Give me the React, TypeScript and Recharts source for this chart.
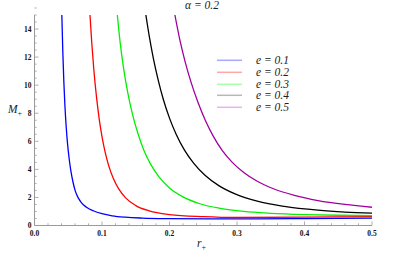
import React from 'react';
import { LineChart, Line, XAxis, YAxis } from 'recharts';

// e = 0.1
const rE1 = [0.0405, 0.042, 0.0435, 0.045, 0.047, 0.049, 0.0515, 0.054, 0.057, 0.0605, 0.065, 0.07, 0.077, 0.087, 0.1, 0.115, 0.135, 0.16, 0.2, 0.26, 0.33, 0.4, 0.5];
const mE1 = [15, 12.3, 10.2, 8.6, 7.0, 5.8, 4.7, 3.85, 3.1, 2.45, 1.95, 1.6, 1.3, 1.05, 0.84, 0.69, 0.59, 0.53, 0.49, 0.47, 0.47, 0.49, 0.53];
// e = 0.2
const rE2 = [0.0822, 0.085, 0.088, 0.092, 0.096, 0.1, 0.105, 0.11, 0.117, 0.125, 0.135, 0.15, 0.17, 0.2, 0.25, 0.3, 0.4, 0.5];
const mE2 = [15, 12.9, 11.05, 9.09, 7.55, 6.33, 5.15, 4.25, 3.33, 2.59, 1.97, 1.42, 1.04, 0.78, 0.63, 0.57, 0.59, 0.63];
// e = 0.3
const rE3 = [0.1227, 0.127, 0.132, 0.138, 0.145, 0.153, 0.162, 0.172, 0.185, 0.2, 0.22, 0.245, 0.275, 0.31, 0.35, 0.4, 0.45, 0.5];
const mE3 = [15, 13.0, 11.2, 9.5, 7.95, 6.59, 5.37, 4.37, 3.43, 2.68, 2.04, 1.55, 1.22, 1.0, 0.87, 0.78, 0.73, 0.7];
// e = 0.4
const rE4 = [0.165, 0.17, 0.176, 0.183, 0.191, 0.2, 0.21, 0.222, 0.236, 0.253, 0.273, 0.298, 0.33, 0.37, 0.42, 0.46, 0.5];
const mE4 = [15, 13.49, 11.93, 10.41, 8.96, 7.65, 6.49, 5.39, 4.43, 3.56, 2.84, 2.23, 1.73, 1.36, 1.09, 0.96, 0.88];
// e = 0.5
const rE5 = [0.208, 0.215, 0.223, 0.232, 0.242, 0.253, 0.265, 0.278, 0.293, 0.31, 0.33, 0.355, 0.385, 0.42, 0.46, 0.5];
const mE5 = [15, 13.3, 11.7, 10.2, 8.8, 7.5, 6.35, 5.35, 4.5, 3.78, 3.15, 2.6, 2.15, 1.78, 1.5, 1.3];

const eLabels = ['e = 0.1', 'e = 0.2', 'e = 0.3', 'e = 0.4', 'e = 0.5'];
const lineColors = ['#0000ff', '#ff0000', '#00f000', '#000000', '#a000a0'];
const legendColors = ['#a8a8ff', '#ffa8a8', '#a8ffa8', '#b8b8b8', '#eeb0ee'];

const xMajor = [0, 0.1, 0.2, 0.3, 0.4, 0.5];
const xMajorLabels = ['0.0', '0.1', '0.2', '0.3', '0.4', '0.5'];
const yMajor = [0, 2, 4, 6, 8, 10, 12, 14];
const yMajorLabels = ['0', '2', '4', '6', '8', '10', '12', '14'];

const zip = (rs: number[], ms: number[]) => rs.map((r, i) => ({ r, m: ms[i] }));
const seriesData = [zip(rE1, mE1), zip(rE2, mE2), zip(rE3, mE3), zip(rE4, mE4), zip(rE5, mE5)];

const xTicks: number[] = [];
for (let i = 0; i < xMajor.length; i++) {
  xTicks.push(xMajor[i]);
  if (i < xMajor.length - 1) {
    const step = (xMajor[i + 1] - xMajor[i]) / 5;
    for (let k = 1; k < 5; k++) xTicks.push(xMajor[i] + step * k);
  }
}
const yTicks: number[] = [];
for (let i = 0; i < yMajor.length; i++) {
  yTicks.push(yMajor[i]);
  for (let k = 1; k < 4; k++) yTicks.push(yMajor[i] + 0.5 * k);
}

const isMajorX = (v: number) => xMajor.findIndex((m) => Math.abs(m - v) < 1e-6);
const isMajorY = (v: number) => yMajor.findIndex((m) => Math.abs(m - v) < 1e-6);

const frameColor = '#9a9a9a';
const tickFont = { fontFamily: 'Liberation Serif, Times New Roman, serif', fontSize: 7.5, fontWeight: 700 as const };
const MAJ = 4;
const MIN = 2.2;

const BottomTick = (p: any) => {
  const idx = isMajorX(p.payload.value);
  const len = idx >= 0 ? MAJ : MIN;
  return (
    <g>
      <line x1={p.x} x2={p.x} y1={p.y} y2={p.y - len} stroke={frameColor} strokeWidth={0.8} />
      {idx >= 0 && (
        <text x={p.x} y={p.y + 10} textAnchor="middle" fill="#111" style={tickFont}>
          {xMajorLabels[idx]}
        </text>
      )}
    </g>
  );
};
const TopTick = (p: any) => {
  const idx = isMajorX(p.payload.value);
  const len = idx >= 0 ? MAJ : MIN;
  return <line x1={p.x} x2={p.x} y1={p.y} y2={p.y + len} stroke={frameColor} strokeWidth={0.8} />;
};
const LeftTick = (p: any) => {
  const idx = isMajorY(p.payload.value);
  const len = idx >= 0 ? MAJ : MIN;
  return (
    <g>
      <line x1={p.x} x2={p.x + len} y1={p.y} y2={p.y} stroke={frameColor} strokeWidth={0.8} />
      {idx >= 0 && (
        <text x={p.x - 3} y={p.y + 2.6} textAnchor="end" fill="#111" style={tickFont}>
          {yMajorLabels[idx]}
        </text>
      )}
    </g>
  );
};
const RightTick = (p: any) => {
  const idx = isMajorY(p.payload.value);
  const len = idx >= 0 ? MAJ : MIN;
  return <line x1={p.x} x2={p.x - len} y1={p.y} y2={p.y} stroke={frameColor} strokeWidth={0.8} />;
};

const serif = 'Liberation Serif, Times New Roman, serif';

export default function App() {
  return (
    <div style={{ position: 'absolute', left: 0, top: 0, width: 415, height: 260, background: '#fff' }}>
      <LineChart width={415} height={260} margin={{ top: 15, right: 43, bottom: 14.5, left: 4.5 }}>
        <XAxis
          xAxisId="b"
          dataKey="r"
          type="number"
          domain={[0, 0.5]}
          allowDataOverflow
          ticks={xTicks}
          interval={0}
          tickSize={0}
          tickMargin={0}
          height={20}
          axisLine={{ stroke: frameColor }}
          tickLine={false}
          tick={<BottomTick />}
        />
        <XAxis
          xAxisId="t"
          orientation="top"
          dataKey="r"
          type="number"
          domain={[0, 0.5]}
          allowDataOverflow
          ticks={xTicks}
          interval={0}
          tickSize={0}
          tickMargin={0}
          height={0}
          axisLine={{ stroke: frameColor }}
          tickLine={false}
          tick={<TopTick />}
        />
        <YAxis
          yAxisId="l"
          type="number"
          domain={[0, 15]}
          allowDataOverflow
          ticks={yTicks}
          interval={0}
          tickSize={0}
          tickMargin={0}
          width={30}
          axisLine={{ stroke: frameColor }}
          tickLine={false}
          tick={<LeftTick />}
        />
        <YAxis
          yAxisId="r"
          orientation="right"
          type="number"
          domain={[0, 15]}
          allowDataOverflow
          ticks={yTicks}
          interval={0}
          tickSize={0}
          tickMargin={0}
          width={0}
          axisLine={{ stroke: frameColor }}
          tickLine={false}
          tick={<RightTick />}
        />
        {seriesData.map((d, i) => (
          <Line
            key={eLabels[i]}
            xAxisId="b"
            yAxisId="l"
            data={d}
            dataKey="m"
            type="monotone"
            stroke={lineColors[i]}
            strokeWidth={1.3}
            dot={false}
            isAnimationActive={false}
          />
        ))}
      </LineChart>
      <span
        style={{
          position: 'absolute',
          left: 185,
          top: -1,
          fontFamily: serif,
          fontStyle: 'italic',
          fontSize: 11.5,
          whiteSpace: 'nowrap',
          color: '#222',
        }}
      >
        α = 0.2
      </span>
      <span
        style={{
          position: 'absolute',
          left: 8,
          top: 103,
          fontFamily: serif,
          fontStyle: 'italic',
          fontSize: 11.5,
          whiteSpace: 'nowrap',
          color: '#222',
        }}
      >
        M<sub style={{ fontStyle: 'normal', fontSize: 8, verticalAlign: -3 }}>+</sub>
      </span>
      <span
        style={{
          position: 'absolute',
          left: 197,
          top: 237,
          fontFamily: serif,
          fontStyle: 'italic',
          fontSize: 11.5,
          whiteSpace: 'nowrap',
          color: '#222',
        }}
      >
        r<sub style={{ fontStyle: 'normal', fontSize: 8, verticalAlign: -3 }}>+</sub>
      </span>
      <div style={{ position: 'absolute', left: 217, top: 54 }}>
        {eLabels.map((lab, i) => (
          <div key={lab} style={{ position: 'relative', height: 11.8, width: 100 }}>
            <svg width={26} height={12} style={{ position: 'absolute', left: 0, top: 0 }}>
              <line x1={0} x2={25} y1={6.3} y2={6.3} stroke={legendColors[i]} strokeWidth={1.5} />
            </svg>
            <span
              style={{
                position: 'absolute',
                left: 39,
                top: -1,
                fontFamily: serif,
                fontStyle: 'italic',
                fontSize: 11.5,
                whiteSpace: 'nowrap',
                color: '#222',
                lineHeight: '14px',
              }}
            >
              {lab}
            </span>
          </div>
        ))}
      </div>
    </div>
  );
}
